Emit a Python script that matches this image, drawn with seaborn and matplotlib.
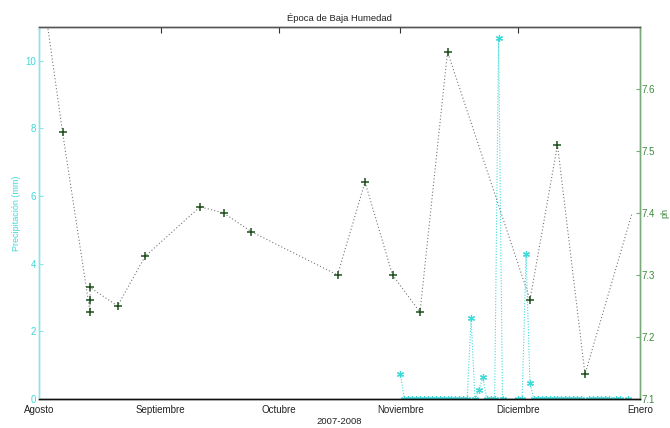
import matplotlib
matplotlib.use("Agg")
import matplotlib.pyplot as plt
import seaborn as sns
import pandas as pd

# pH measurements (right axis)
ph_dates = ["2007-08-01", "2007-08-07", "2007-08-14", "2007-08-14", "2007-08-14",
            "2007-08-21", "2007-08-28", "2007-09-11", "2007-09-17", "2007-09-24",
            "2007-10-16", "2007-10-23", "2007-10-30", "2007-11-06", "2007-11-13",
            "2007-12-04", "2007-12-11", "2007-12-18", "2007-12-30"]
ph_values = [7.80, 7.53, 7.24, 7.26, 7.28,
             7.25, 7.33, 7.41, 7.40, 7.37,
             7.30, 7.45, 7.30, 7.24, 7.66,
             7.26, 7.51, 7.14, 7.40]

# daily precipitation (left axis), missing days skipped
precip_dates = (
    ["2007-11-01"]
    + [f"2007-11-{d:02d}" for d in range(2, 19)]
    + ["2007-11-19", "2007-11-20", "2007-11-21", "2007-11-22",
       "2007-11-23", "2007-11-24", "2007-11-25", "2007-11-26", "2007-11-27",
       "2007-12-01", "2007-12-02", "2007-12-03", "2007-12-04"]
    + [f"2007-12-{d:02d}" for d in range(5, 18)]
    + [f"2007-12-{d:02d}" for d in range(19, 25)]
    + ["2007-12-26", "2007-12-27", "2007-12-29"]
)
precip_values = (
    [0.75]
    + [0.0] * 17
    + [2.39, 0.0, 0.27, 0.64,
       0.0, 0.0, 0.0, 10.66, 0.0,
       0.0, 0.0, 4.28, 0.46]
    + [0.0] * 13
    + [0.0] * 6
    + [0.0, 0.0, 0.0]
)

month_ticks = ["2007-08-01", "2007-09-01", "2007-10-01", "2007-11-01", "2007-12-01", "2008-01-01"]
month_labels = ["Agosto", "Septiembre", "Octubre", "Noviembre", "Diciembre", "Enero"]

ph_df = pd.DataFrame({"fecha": pd.to_datetime(ph_dates), "ph": ph_values})
pr_df = pd.DataFrame({"fecha": pd.to_datetime(precip_dates), "mm": precip_values})

sns.set_style("white")
plt.rcParams["font.family"] = ["Liberation Sans", "DejaVu Sans"]

CYAN = "#3fd9d9"
CYAN_AX = "#8fe3e6"
GREEN = "#3a8a3a"
GREEN_AX = "#7aa97a"
DARK_GREEN = "#1d4f1d"

fig = plt.figure(figsize=(6.7, 4.28), dpi=100)
ax = fig.add_axes([0.0582, 0.0678, 0.8970, 0.8692])
ax2 = ax.twinx()

# precipitation
sns.lineplot(data=pr_df, x="fecha", y="mm", ax=ax, color=CYAN, estimator=None, sort=False,
             linestyle=(0, (1, 1.5)), linewidth=0.8, marker=(6, 2, 0),
             markersize=5, markeredgewidth=0.9, markeredgecolor=CYAN,
             markerfacecolor="none")

# pH, last point drawn without marker
sns.lineplot(data=ph_df, x="fecha", y="ph", ax=ax2, color="#777777", estimator=None, sort=False,
             linestyle=(0, (1, 2)), linewidth=0.8, marker="+", markersize=5.5,
             markeredgewidth=1.1, markeredgecolor=DARK_GREEN,
             markevery=list(range(len(ph_values) - 1)))

ax.set_xlim(pd.Timestamp("2007-08-01"), pd.Timestamp("2008-01-01"))
ax.set_ylim(0, 11)
ax2.set_ylim(7.1, 7.7)

ax.set_xticks(pd.to_datetime(month_ticks))
ax.set_xticklabels(month_labels)
ax.set_yticks([0, 2, 4, 6, 8, 10])
ax2.set_yticks([7.1, 7.2, 7.3, 7.4, 7.5, 7.6])
ax2.set_yticklabels(["7.1", "7.2", "7.3", "7.4", "7.5", "7.6"])

ax.tick_params(axis="x", direction="in", length=4, width=0.8, colors="#333333",
               labelsize=7, top=True, pad=4, labelcolor="#222222")
ax.tick_params(axis="y", direction="in", length=3, width=0.8, colors=CYAN_AX,
               labelsize=7, labelcolor=CYAN, pad=2)
ax2.tick_params(axis="y", direction="in", length=3, width=0.8, colors=GREEN_AX,
                labelsize=7, labelcolor=GREEN, pad=1)

for a in (ax, ax2):
    a.spines["top"].set_color("#555555")
    a.spines["bottom"].set_color("#111111")
    a.spines["left"].set_color(CYAN_AX)
    a.spines["right"].set_color(GREEN_AX)
    for s in a.spines.values():
        s.set_linewidth(1.0)
    a.grid(False)

ax.set_title("Época de Baja Humedad", fontsize=6.8, pad=4, color="#222222")
ax.set_xlabel("2007-2008", fontsize=6.8, labelpad=2, color="#222222")
ax.set_ylabel("Precipitación (mm)", fontsize=6.5, color=CYAN, labelpad=3)
ax2.set_ylabel("ph", fontsize=6.5, color=GREEN, labelpad=4)

fig.savefig("out.png", dpi=100)
